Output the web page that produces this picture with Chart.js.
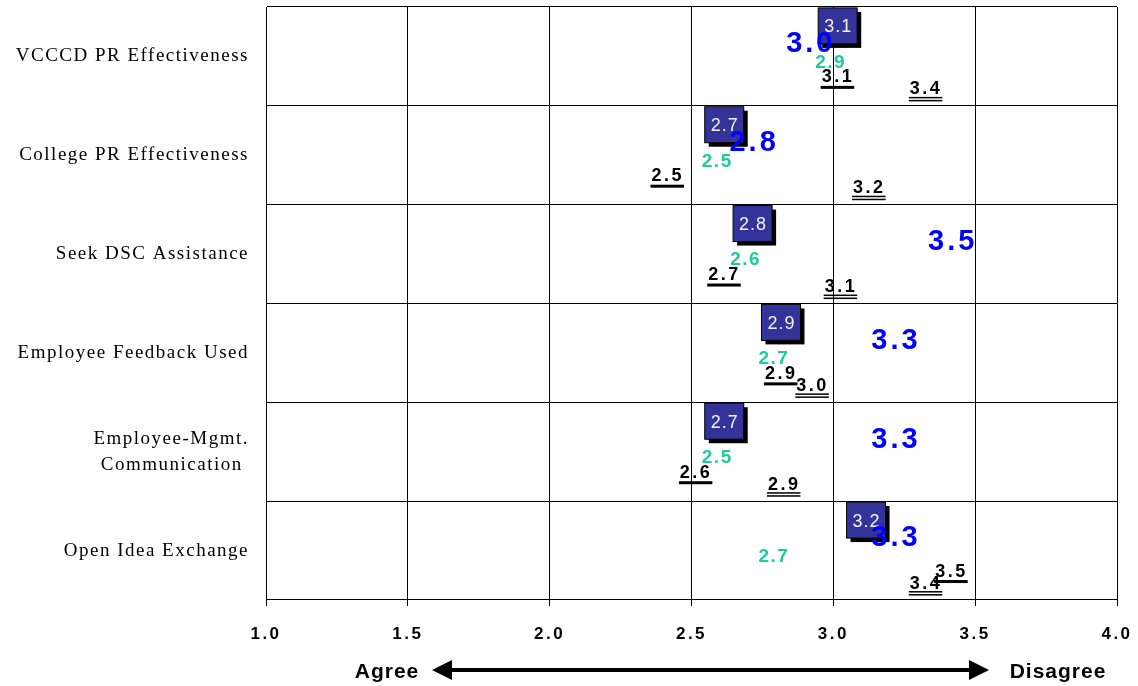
<!DOCTYPE html>
<html>
<head>
<meta charset="utf-8">
<title>PR and Communication Ratings</title>
<script src="https://cdn.jsdelivr.net/npm/chart.js@4/dist/chart.umd.min.js"></script>
<style>
  html, body { margin: 0; padding: 0; background: #fff; }
  #wrap { width: 1138px; height: 686px; }
</style>
</head>
<body>
<div id="wrap"><canvas id="chart" width="1138" height="686"></canvas></div>
<script>
// survey items, top to bottom
var items = [
  "VCCCD PR Effectiveness",
  "College PR Effectiveness",
  "Seek DSC Assistance",
  "Employee Feedback Used",
  ["Employee-Mgmt.", "Communication "],
  "Open Idea Exchange"
];

// mean ratings, one value per item
var boxed   = [3.1, 2.7, 2.8, 2.9, 2.7, 3.2];
var bigBlue = [3.0, 2.8, 3.5, 3.3, 3.3, 3.3];
var teal    = [2.9, 2.5, 2.6, 2.7, 2.5, 2.7];
var under1  = [3.1, 2.5, 2.7, 2.9, 2.6, 3.5];
var under2  = [3.4, 3.2, 3.1, 3.0, 2.9, 3.4];

var xTicks = [1.0, 1.5, 2.0, 2.5, 3.0, 3.5, 4.0];

var SANS = '"Liberation Sans", Arial, sans-serif';
var SERIF = '"Liberation Serif", "Times New Roman", serif';

// how each series' value is written next to its (invisible) bar end
var labelStyles = [
  { kind: 'box',    size: 18, bold: false, color: '#f2f2fa', spacing: 1,   dx: -24, dy: 1.5 },
  { kind: 'plain',  size: 29, bold: true,  color: '#0000ff', spacing: 3,   dx: -24, dy: 1.5 },
  { kind: 'plain',  size: 19, bold: true,  color: '#1ccc9a', spacing: 1.5, dx: 25,  dy: 4.5 },
  { kind: 'under',  size: 18, bold: true,  color: '#000000', spacing: 2.5, dx: -25, dy: 3.5 },
  { kind: 'double', size: 18, bold: true,  color: '#000000', spacing: 2.5, dx: -22, dy: -0.5 }
];

function makeSet(values, idx) {
  return {
    data: values,
    labelStyle: labelStyles[idx],
    backgroundColor: 'rgba(0,0,0,0)',
    borderWidth: 0,
    categoryPercentage: 0.81,
    barPercentage: 1
  };
}

var valueLabels = {
  id: 'valueLabels',
  afterDatasetsDraw: function (chart) {
    var ctx = chart.ctx;
    chart.data.datasets.forEach(function (ds, i) {
      var st = ds.labelStyle;
      var meta = chart.getDatasetMeta(i);
      meta.data.forEach(function (bar, j) {
        var txt = ds.data[j].toFixed(1);
        var cx = bar.x + st.dx;
        var cy = bar.y + st.dy;
        ctx.save();
        ctx.letterSpacing = st.spacing + 'px';
        ctx.font = (st.bold ? 'bold ' : '') + st.size + 'px ' + SANS;
        ctx.textAlign = 'left';
        ctx.textBaseline = 'alphabetic';
        var w = ctx.measureText(txt).width;
        var left = cx - (w - st.spacing) / 2;
        var base = cy + st.size * 0.716 / 2;

        if (st.kind === 'box') {
          var bw = 39, bh = 36;
          ctx.fillStyle = '#000';
          ctx.fillRect(cx - bw / 2 + 4, cy - bh / 2 + 4, bw, bh);
          ctx.fillStyle = '#333399';
          ctx.fillRect(cx - bw / 2, cy - bh / 2, bw, bh);
          ctx.strokeStyle = '#000';
          ctx.lineWidth = 1;
          ctx.strokeRect(cx - bw / 2, cy - bh / 2, bw, bh);
        }

        ctx.fillStyle = st.color;
        ctx.fillText(txt, left, base);

        if (st.kind === 'under') {
          ctx.fillRect(left - 1, base + 3.5, w + 1, 3);
        } else if (st.kind === 'double') {
          ctx.fillRect(left - 1, base + 2.5, w + 1, 1.5);
          ctx.fillRect(left - 1, base + 5.5, w + 1, 1.5);
        }
        ctx.restore();
      });
    });
  }
};

// "Agree <----> Disagree" legend under the axis
var scaleArrow = {
  id: 'scaleArrow',
  afterDraw: function (chart) {
    var ctx = chart.ctx;
    var a = chart.chartArea;
    var y = a.bottom + 70;
    var x0 = a.left + 166, x1 = a.left + 723;
    ctx.save();
    ctx.fillStyle = '#000';
    ctx.letterSpacing = '1px';
    ctx.font = 'bold 21px ' + SANS;
    ctx.textAlign = 'center';
    ctx.textBaseline = 'alphabetic';
    ctx.fillText('Agree', a.left + 121, y + 8);
    ctx.fillText('Disagree', a.left + 792, y + 8);

    ctx.fillRect(x0 + 18, y - 2, (x1 - x0) - 36, 4);
    ctx.beginPath();
    ctx.moveTo(x0, y);
    ctx.lineTo(x0 + 20, y - 10);
    ctx.lineTo(x0 + 20, y + 10);
    ctx.closePath();
    ctx.fill();
    ctx.beginPath();
    ctx.moveTo(x1, y);
    ctx.lineTo(x1 - 20, y - 10);
    ctx.lineTo(x1 - 20, y + 10);
    ctx.closePath();
    ctx.fill();
    ctx.restore();
  }
};

// wider letter spacing on the axis labels
var axisSpacing = {
  id: 'axisSpacing',
  afterLayout: function (chart) {
    [['x', '2.5px'], ['y', '1.5px']].forEach(function (p) {
      var s = chart.scales[p[0]];
      if (s._spaced) return;
      var orig = s.drawLabels.bind(s);
      s.drawLabels = function (area) {
        chart.ctx.letterSpacing = p[1];
        orig(area);
        chart.ctx.letterSpacing = '0px';
      };
      s._spaced = true;
    });
  }
};

new Chart(document.getElementById('chart'), {
  type: 'bar',
  data: {
    labels: items,
    datasets: [
      makeSet(boxed, 0),
      makeSet(bigBlue, 1),
      makeSet(teal, 2),
      makeSet(under1, 3),
      makeSet(under2, 4)
    ]
  },
  options: {
    indexAxis: 'y',
    responsive: false,
    animation: false,
    devicePixelRatio: 1,
    layout: { padding: { left: 0, right: 21, top: 7, bottom: 0 } },
    plugins: {
      legend: { display: false },
      tooltip: { enabled: false }
    },
    scales: {
      x: {
        min: xTicks[0],
        max: xTicks[xTicks.length - 1],
        afterBuildTicks: function (scale) {
          scale.ticks = xTicks.map(function (v) { return { value: v }; });
        },
        afterFit: function (scale) {
          scale.height = 86;
          scale.paddingLeft = 0;
          scale.paddingRight = 0;
        },
        grid: { color: '#000', lineWidth: 1, tickLength: 6 },
        border: { display: false },
        ticks: {
          color: '#000',
          padding: 18,
          maxRotation: 0,
          font: { family: SANS, size: 17, weight: 'bold' },
          callback: function (v) { return Number(v).toFixed(1); }
        }
      },
      y: {
        afterFit: function (scale) {
          scale.width = 266;
          scale.paddingTop = 0;
          scale.paddingBottom = 0;
        },
        grid: { color: '#000', lineWidth: 1, drawTicks: false, offset: true },
        border: { color: '#000', width: 1 },
        ticks: {
          color: '#000',
          padding: 17,
          font: { family: SERIF, size: 19, lineHeight: 1.35 }
        }
      }
    }
  },
  plugins: [axisSpacing, valueLabels, scaleArrow]
});
</script>
</body>
</html>
